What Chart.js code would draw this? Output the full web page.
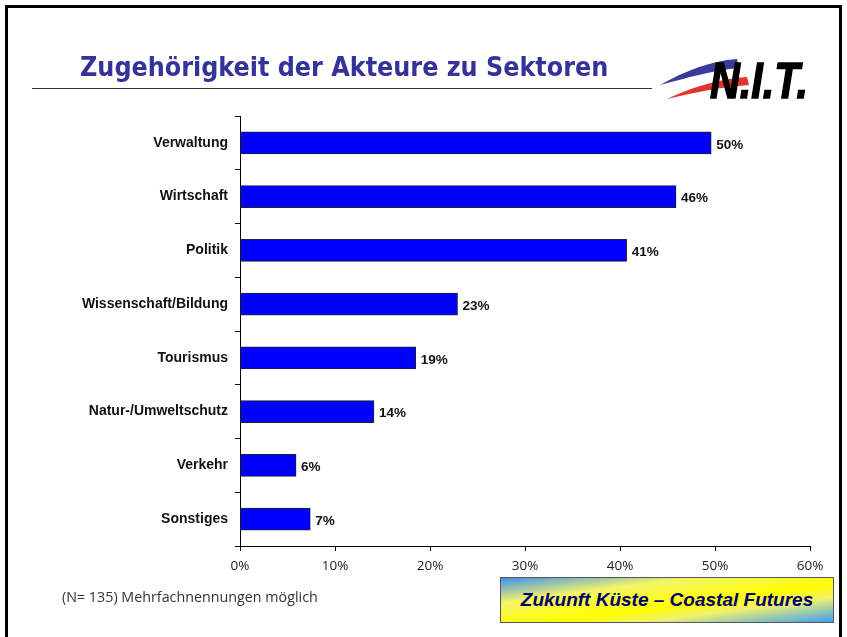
<!DOCTYPE html>
<html lang="de">
<head>
<meta charset="utf-8">
<title>Zugehörigkeit der Akteure zu Sektoren</title>
<script src="https://cdn.jsdelivr.net/npm/chart.js@4/dist/chart.umd.min.js"></script>
<style>
    html, body {
        margin: 0;
        padding: 0;
        background: #ffffff;
        width: 847px;
        height: 637px;
        overflow: hidden;
    }
    #frame {
        position: absolute;
        left: 5px;
        top: 5px;
        width: 837px;
        height: 650px;
        border: 3px solid #000;
        box-sizing: border-box;
    }
    #chart {
        position: absolute;
        left: 0;
        top: 0;
    }
    #title {
        position: absolute;
        left: 80px;
        top: 51px;
        font-family: "DejaVu Sans Condensed", "DejaVu Sans", sans-serif;
        font-weight: bold;
        font-size: 26.6px;
        color: #333399;
        white-space: nowrap;
    }
    #rule {
        position: absolute;
        left: 32px;
        top: 88px;
        width: 620px;
        height: 1px;
        background: #333;
    }
    #logo {
        position: absolute;
        left: 655px;
        top: 55px;
    }
    #note {
        position: absolute;
        left: 62px;
        top: 587px;
        font-family: "Open Sans", "Liberation Sans", sans-serif;
        font-size: 14.3px;
        color: #333;
        white-space: nowrap;
    }
    #badge {
        position: absolute;
        left: 500px;
        top: 577px;
        width: 334px;
        height: 46px;
        box-sizing: border-box;
        border: 1px solid #555;
        background: linear-gradient(to bottom right, #3c8ff2 0%, #f4f46a 28%, #ffff00 58%, #f0f070 72%, #3c9ff2 100%);
        font-family: "Liberation Sans", Arial, sans-serif;
        font-weight: bold;
        font-style: italic;
        font-size: 19px;
        color: #000066;
        text-align: center;
        line-height: 44px;
        white-space: nowrap;
    }
</style>
</head>
<body>
<div id="frame"></div>
<canvas id="chart" width="847" height="637"></canvas>
<div id="title">Zugehörigkeit der Akteure zu Sektoren</div>
<div id="rule"></div>
<svg id="logo" width="160" height="52" viewBox="0 0 160 52">
    <path d="M5 30 C 30 16, 55 6, 82 4 L 84 13 C 58 15, 32 23, 5 30 Z" fill="#3a3a9a"/>
    <path d="M12 44 C 35 33, 62 24, 92 22 L 94 30 C 64 32, 38 38, 12 44 Z" fill="#e0352a"/>
    <text x="55" y="43" font-family="Liberation Sans, Arial, sans-serif" font-weight="bold" font-style="italic"
          font-size="50" fill="#000" stroke="#000" stroke-width="1.5"
          textLength="98" lengthAdjust="spacingAndGlyphs">N.I.T.</text>
</svg>
<div id="note">(N= 135) Mehrfachnennungen möglich</div>
<div id="badge">Zukunft Küste – Coastal Futures</div>

<script>
// Chart data
const categories = [
    'Verwaltung',
    'Wirtschaft',
    'Politik',
    'Wissenschaft/Bildung',
    'Tourismus',
    'Natur-/Umweltschutz',
    'Verkehr',
    'Sonstiges'
];
const shares = [49.6, 45.9, 40.7, 22.9, 18.5, 14.1, 5.9, 7.4];
const shareLabels = ['50%', '46%', '41%', '23%', '19%', '14%', '6%', '7%'];
const axisTicks = [0, 10, 20, 30, 40, 50, 60];

const labelFont = '"Liberation Sans", Arial, sans-serif';
const tickFont = '"Open Sans", "Liberation Sans", sans-serif';

// Draws the percentage next to each bar
const valueLabels = {
    id: 'valueLabels',
    afterDatasetsDraw(chart) {
        const ctx = chart.ctx;
        const meta = chart.getDatasetMeta(0);
        ctx.save();
        ctx.font = 'bold 13.5px ' + labelFont;
        ctx.fillStyle = '#111';
        ctx.textAlign = 'left';
        ctx.textBaseline = 'middle';
        meta.data.forEach((bar, i) => {
            ctx.fillText(shareLabels[i], bar.x + 5, bar.y + 2);
        });
        ctx.restore();
    }
};

const ctx = document.getElementById('chart').getContext('2d');
const sectorChart = new Chart(ctx, {
    type: 'bar',
    data: {
        labels: categories,
        datasets: [{
            data: shares,
            backgroundColor: '#0000ff',
            borderColor: '#222',
            borderWidth: 1,
            borderSkipped: false,
            barThickness: 22
        }]
    },
    options: {
        indexAxis: 'y',
        responsive: false,
        animation: false,
        layout: {
            padding: { top: 116, right: 37, bottom: 0, left: 0 }
        },
        scales: {
            x: {
                min: 0,
                max: 60,
                afterFit(scale) { scale.height = 91; },
                afterBuildTicks(scale) {
                    scale.ticks = axisTicks.map(v => ({ value: v }));
                },
                grid: {
                    drawOnChartArea: false,
                    drawTicks: true,
                    tickLength: 5,
                    color: '#000'
                },
                border: { display: true, color: '#000', width: 1 },
                ticks: {
                    padding: 7,
                    color: '#222',
                    font: { family: tickFont, size: 13.5 },
                    callback: v => v + '%'
                }
            },
            y: {
                afterFit(scale) { scale.width = 240; },
                grid: {
                    offset: true,
                    drawOnChartArea: false,
                    drawTicks: true,
                    tickLength: 5,
                    color: '#000'
                },
                border: { display: true, color: '#000', width: 1 },
                ticks: {
                    padding: 7,
                    color: '#111',
                    font: { family: labelFont, size: 14, weight: 'bold' }
                }
            }
        },
        plugins: {
            legend: { display: false },
            tooltip: { enabled: false }
        }
    },
    plugins: [valueLabels]
});
</script>
</body>
</html>
